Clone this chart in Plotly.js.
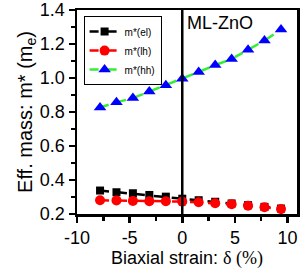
<!DOCTYPE html>
<html><head><meta charset="utf-8">
<script src="https://cdn.plot.ly/plotly-3.0.1.min.js"></script>
<style>body{margin:0}#c{width:300px;height:273px}</style>
</head><body><div id="c"></div>
<script>
const strain = [-7.81, -6.25, -4.69, -3.13, -1.56, 0, 1.56, 3.13, 4.69, 6.25, 7.81, 9.38];
const mEl = [0.338, 0.328, 0.322, 0.312, 0.302, 0.290, 0.281, 0.272, 0.262, 0.252, 0.242, 0.232];
const mLh = [0.281, 0.280, 0.277, 0.275, 0.275, 0.273, 0.269, 0.263, 0.258, 0.249, 0.240, 0.229];
const mHh = [0.827, 0.857, 0.882, 0.920, 0.957, 0.995, 1.036, 1.076, 1.112, 1.166, 1.220, 1.285];
const names = ["m*(el)", "m*(lh)", "m*(hh)"];
const xTicks = [-10, -5, 0, 5, 10];
const yTicks = [0.2, 0.4, 0.6, 0.8, 1.0, 1.2, 1.4];

const font = "Liberation Sans, Arial, sans-serif";
const traces = [
  {x: strain, y: mEl, name: names[0], mode: "lines+markers",
   line: {color: "black", width: 2.5, dash: "dash"},
   marker: {symbol: "square", size: 8, color: "black"}},
  {x: strain, y: mLh, name: names[1], mode: "lines+markers",
   line: {color: "red", width: 2.5, dash: "dash"},
   marker: {symbol: "circle", size: 10, color: "red"}},
  {x: strain, y: mHh, name: names[2], mode: "lines+markers",
   line: {color: "#33ee33", width: 2.5, dash: "dash"},
   marker: {symbol: "triangle-up", size: 11, color: "blue"}}
];
const axBase = {showgrid: false, zeroline: false, showline: true, mirror: true,
  linecolor: "black", linewidth: 2.5, ticks: "outside", ticklen: 6, tickwidth: 2.5,
  tickcolor: "black", tickfont: {family: font, size: 18, color: "black"},
  minor: {ticks: "outside", ticklen: 4, tickwidth: 2.5, tickcolor: "black"}};
const layout = {
  width: 300, height: 273,
  margin: {l: 77, r: 3, t: 10, b: 59},
  paper_bgcolor: "white", plot_bgcolor: "white",
  font: {family: font, color: "black"},
  showlegend: true,
  legend: {x: 0.03, y: 0.97, xanchor: "left", yanchor: "top",
    bordercolor: "black", borderwidth: 1, bgcolor: "white",
    font: {family: font, size: 10}, tracegroupgap: 0, itemwidth: 30},
  xaxis: Object.assign({}, axBase, {range: [-10, 10.9], tickvals: xTicks,
    ticktext: xTicks.map(String), minor: Object.assign({}, axBase.minor, {dtick: 2.5, tick0: 0}),
    title: {text: "Biaxial strain: <span style='font-family:Liberation Serif,serif'>δ (%)</span>",
      font: {family: font, size: 18}, standoff: 0}}),
  yaxis: Object.assign({}, axBase, {range: [0.2, 1.4], tickvals: yTicks,
    ticktext: yTicks.map(v => v.toFixed(1)), minor: Object.assign({}, axBase.minor, {dtick: 0.1, tick0: 0}),
    title: {text: "Eff. mass: m* (m<sub>e</sub>)", font: {family: font, size: 20}, standoff: 2}}),
  shapes: [{type: "line", xref: "x", yref: "paper", x0: 0, x1: 0, y0: 0, y1: 1,
    line: {color: "black", width: 2.5}}],
  annotations: [{xref: "x", yref: "paper", x: 0.3, y: 0.995, xanchor: "left", yanchor: "top",
    text: "ML-ZnO", showarrow: false, font: {family: font, size: 18, color: "black"}}]
};
Plotly.newPlot("c", traces, layout, {staticPlot: true});
</script></body></html>
